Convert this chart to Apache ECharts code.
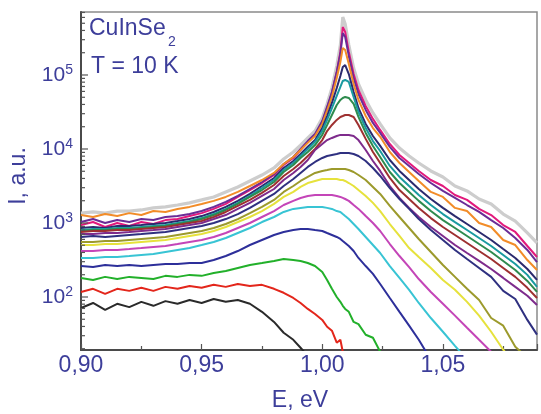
<!DOCTYPE html>
<html>
<head>
<meta charset="utf-8">
<script src="https://cdn.jsdelivr.net/npm/echarts@6/dist/echarts.min.js"></script>
<style>
html,body{margin:0;padding:0;background:#fff;}
#chart{width:541px;height:414px;}
</style>
</head>
<body>
<div id="chart"></div>
<script>
// Photon energy, eV (shared by all spectra)
const energy = [0.900,0.905,0.910,0.915,0.920,0.925,0.930,0.935,0.940,0.945,0.950,0.955,0.960,0.965,0.970,0.975,0.980,0.984,0.988,0.991,0.994,0.997,1.000,1.002,1.004,1.006,1.0075,1.0085,1.0095,1.011,1.013,1.015,1.018,1.021,1.024,1.028,1.032,1.036,1.040,1.045,1.050,1.055,1.060,1.065,1.070,1.075,1.080,1.085,1.089];

// Intensities, a.u.
const sGrey = [1360,1410,1360,1450,1450,1500,1600,1650,1750,1870,2050,2250,2630,3070,3700,4450,5540,7330,9110,11300,14100,17500,26300,40600,66800,132000,254000,607000,488000,254000,124000,75600,46000,30700,21800,14100,10300,8050,6470,5050,4190,3160,2710,2110,1810,1320,1062,733,537];
const sPink = [939,1030,883,1000,911,1030,969,1095,1130,1240,1360,1550,1810,2250,2790,3470,4450,6080,7560,9700,12500,15500,23200,35800,57200,110000,205000,445000,381000,205000,103000,62700,38100,25500,18100,11700,8300,6470,5050,3810,3160,2390,2050,1550,1280,939,756,489,347];
const sViolet = [1030,1130,1000,1095,1030,1130,1095,1205,1240,1320,1450,1650,1930,2320,2880,3580,4600,6270,7800,10000,12800,16000,23900,37000,59000,110000,192000,369000,326000,181000,91100,55400,33700,22500,16500,10700,7560,5900,4600,3470,2710,2180,1750,1410,1095,856,627,432,297];
const sOrange = [1280,1205,1320,1240,1360,1280,1450,1410,1550,1650,1810,1990,2250,2630,3160,3810,4740,6270,7800,9700,12100,15000,21800,32700,50500,91100,150000,232000,218000,141000,75600,46000,27900,19200,14600,9110,6470,4890,3700,2630,2250,1600,1450,1000,883,589,504,316,232];
const sDarkNavy = [856,883,856,911,911,939,969,1000,1062,1130,1240,1410,1650,1990,2470,3160,4060,5540,6890,8560,10700,13200,19200,27900,41900,66800,96900,128000,136000,103000,59000,35800,21800,15000,11000,7100,5050,3810,2880,2110,1600,1240,969,756,589,445,337,239,170];
const sTeal = [804,830,830,856,856,883,911,939,1000,1062,1165,1320,1550,1870,2320,2970,3810,5200,6470,8050,10000,12500,17500,24700,35800,52100,68900,83000,85600,80500,50500,31700,19200,12800,9400,5900,4190,3160,2390,1750,1320,1030,804,627,489,370,279,199,137];
const sDarkGreen = [780,804,804,830,830,856,883,911,969,1030,1130,1280,1500,1810,2250,2790,3580,4890,6080,7560,9110,11300,15500,21100,28800,39300,46000,48900,50500,48900,40600,27100,16500,11000,7800,4890,3470,2630,1990,1450,1095,856,668,520,406,307,232,165,117];
const sBrown = [756,780,780,804,804,830,856,883,939,1000,1062,1205,1410,1700,2050,2550,3260,4320,5370,6470,8050,10000,13200,17500,21100,24700,27100,27900,28800,28800,27100,21100,13700,9110,6470,4060,2790,2110,1600,1165,883,689,537,418,326,247,187,133,97];
const sPurple = [710,710,733,733,756,780,804,830,883,939,1000,1130,1280,1550,1870,2320,2880,3810,4740,5720,7100,9700,11700,13200,14100,15000,15500,15500,15500,15500,15000,13200,9700,6890,5050,3160,2180,1600,1205,883,668,504,393,307,239,181,137,104,78];
const sNavy = [647,668,647,668,689,710,733,756,804,856,911,1000,1130,1320,1600,1990,2470,3160,3930,4740,5720,6680,7560,8050,8300,8560,8830,8830,8830,8830,8560,8050,6890,5540,4320,2970,2110,1550,1130,804,589,432,326,247,187,121,94,49,31];
const sOlive = [554,554,571,571,589,608,627,647,689,733,780,856,969,1130,1360,1650,2050,2630,3160,3700,4190,4740,5050,5200,5370,5370,5370,5370,5370,5200,4890,4450,3810,3070,2470,1700,1205,856,608,406,271,187,129,91,52,41,21.3,15,null];
const sYellow = [504,504,520,520,537,554,571,589,627,668,710,780,883,1030,1205,1450,1810,2250,2630,3070,3470,3700,3930,3930,3930,3930,3810,3810,3700,3470,3160,2790,2320,1870,1450,969,668,459,347,247,170,125,86,56,33.9,19.4,12,null,null];
const sOrchid = [418,418,432,432,445,459,474,489,520,554,589,647,733,856,1000,1205,1450,1750,1990,2180,2320,2390,2390,2390,2390,2320,2250,2180,2110,1990,1750,1550,1240,1000,780,520,358,254,175,117,81,56,38.4,26.4,18.2,null,null,null,null];
const sCyan = [337,337,347,347,358,370,381,406,432,459,504,554,627,733,856,1030,1205,1410,1550,1600,1650,1650,1650,1600,1550,1450,1410,1320,1240,1130,969,830,647,504,393,262,181,125,83,52,33.9,21.9,14.2,null,null,null,null,null,null];
const sDarkBlue = [262,254,271,262,271,262,271,279,279,288,288,316,358,418,504,589,689,756,804,830,830,804,780,733,689,647,608,571,537,489,418,337,262,205,150,97,63,41,26.4,14.2,null,null,null,null,null,null,null,null,null];
const sGreen = [181,170,187,175,187,181,175,193,187,199,193,211,225,247,271,288,307,326,316,307,288,262,218,170,129,100,86,76,69,63,46,43,30.9,28.1,18.2,null,null,null,null,null,null,null,null,null,null,null,null,null,null];
const sRed = [117,129,110,129,121,133,121,137,129,141,133,146,137,150,141,146,129,114,97,83,69,59,49,39.6,35,24.1,26.4,18.2,14.2,null,null,null,null,null,null,null,null,null,null,null,null,null,null,null,null,null,null,null,null];
const sBlack = [71,83,67,81,73,86,76,88,81,91,83,94,86,91,81,63,46,32.9,26.4,20.6,16,null,null,null,null,null,null,null,null,null,null,null,null,null,null,null,null,null,null,null,null,null,null,null,null,null,null,null,null];

const seriesValues = [sGrey,sPink,sViolet,sOrange,sDarkNavy,sTeal,sDarkGreen,sBrown,sPurple,sNavy,sOlive,sYellow,sOrchid,sCyan,sDarkBlue,sGreen,sRed,sBlack];
const seriesNames = ['grey','pink','violet','orange','dark navy','teal','dark green','brown','purple','navy','olive','yellow','orchid','cyan','dark blue','green','red','black'];
const seriesColors = ['#cdcdcd','#e2197c','#6a2c96','#f28c28','#2b2a6e','#1a9aa0','#2e8b4e','#9e3030','#7e2b8c','#2f3080','#9c9a2c','#e6e23c','#c445b8','#38c4d4','#2d2f9a','#22b02a','#e3261b','#2a2a2a'];

// Axes
const xTickValues = [0.90,0.95,1.00,1.05];
const xTickLabels = ['0,90','0,95','1,00','1,05'];
const yMajorTicks = [100,1000,10000,100000];
const yTickExponents = ['2','3','4','5'];
const xMin = 0.90, xMax = 1.089, yMin = 19.22, yMax = 710000;

const textColor = '#3d3e9a';
const font = 'Liberation Sans, Arial, sans-serif';

const yTickData = [];
for (let d = 1; d <= 5; d++) {
  for (let m = 1; m <= 9; m++) {
    const v = m * Math.pow(10, d);
    if (v > yMin && v < yMax) yTickData.push([xMin, v, m === 1 ? 1 : 0]);
  }
}

const series = seriesValues.map((vals, k) => ({
  type: 'line',
  name: seriesNames[k],
  data: energy.map((e, i) => [e, vals[i]]).filter(p => p[1] != null),
  showSymbol: false,
  symbol: 'none',
  clip: true,
  silent: true,
  lineStyle: { color: seriesColors[k], width: k === 0 ? 3.2 : 2 },
  z: 2
}));

series.push({
  type: 'custom',
  silent: true,
  data: yTickData,
  encode: { x: 0, y: 1 },
  z: 5,
  renderItem: function (params, api) {
    const p = api.coord([api.value(0), api.value(1)]);
    const len = api.value(2) ? 7 : 4;
    return { type: 'line', shape: { x1: p[0], y1: p[1], x2: p[0] + len, y2: p[1] }, style: { stroke: '#555', lineWidth: 1.2 } };
  }
});

const chart = echarts.init(document.getElementById('chart'), null, { renderer: 'canvas' });
chart.setOption({
  animation: false,
  backgroundColor: '#ffffff',
  grid: { left: 81, right: 4, top: 12, bottom: 64, show: true, borderColor: '#8a8a8a', borderWidth: 1.5 },
  xAxis: {
    type: 'value', min: xMin, max: xMax, interval: 0.05,
    axisLine: { show: true, lineStyle: { color: '#4a4a4a', width: 2 } },
    axisTick: { show: true, inside: true, length: 6, lineStyle: { color: '#555', width: 1.2 } },
    minorTick: { show: true, splitNumber: 2, length: 4, lineStyle: { color: '#555', width: 1.2 } },
    splitLine: { show: false },
    axisLabel: {
      margin: 4, color: textColor, fontSize: 23, fontFamily: font,
      formatter: function (v) {
        for (let i = 0; i < xTickValues.length; i++) if (Math.abs(v - xTickValues[i]) < 1e-6) return xTickLabels[i];
        return '';
      }
    }
  },
  yAxis: {
    type: 'log', logBase: 10, min: yMin, max: yMax,
    axisLine: { show: true, lineStyle: { color: '#4a4a4a', width: 2 } },
    axisTick: { show: false },
    splitLine: { show: false },
    axisLabel: {
      margin: 8, color: textColor, fontFamily: font,
      formatter: function (v) {
        const e = Math.log10(v);
        const r = Math.round(e);
        if (Math.abs(e - r) > 1e-6) return '';
        const i = yMajorTicks.indexOf(Math.pow(10, r));
        if (i < 0) return '';
        return '{b|10}{s|' + yTickExponents[i] + '}';
      },
      rich: {
        b: { fontSize: 21, color: textColor, fontFamily: font, lineHeight: 24 },
        s: { fontSize: 14, color: textColor, fontFamily: font, verticalAlign: 'top', lineHeight: 14 }
      }
    }
  },
  graphic: [
    { type: 'text', x: 89, y: 29, silent: true, style: { text: 'CuInSe', fill: textColor, fontSize: 23, fontFamily: font, verticalAlign: 'middle' } },
    { type: 'text', x: 168, y: 42, silent: true, style: { text: '2', fill: textColor, fontSize: 14, fontFamily: font, verticalAlign: 'middle' } },
    { type: 'text', x: 91, y: 67, silent: true, style: { text: 'T = 10 K', fill: textColor, fontSize: 23, fontFamily: font, verticalAlign: 'middle' } },
    { type: 'text', x: 19, y: 176, rotation: Math.PI / 2, silent: true, style: { text: 'I, a.u.', fill: textColor, fontSize: 23, fontFamily: font, align: 'center', verticalAlign: 'middle' } },
    { type: 'text', x: 300, y: 401, silent: true, style: { text: 'E, eV', fill: textColor, fontSize: 23, fontFamily: font, align: 'center', verticalAlign: 'middle' } }
  ],
  series: series
});
</script>
</body>
</html>
